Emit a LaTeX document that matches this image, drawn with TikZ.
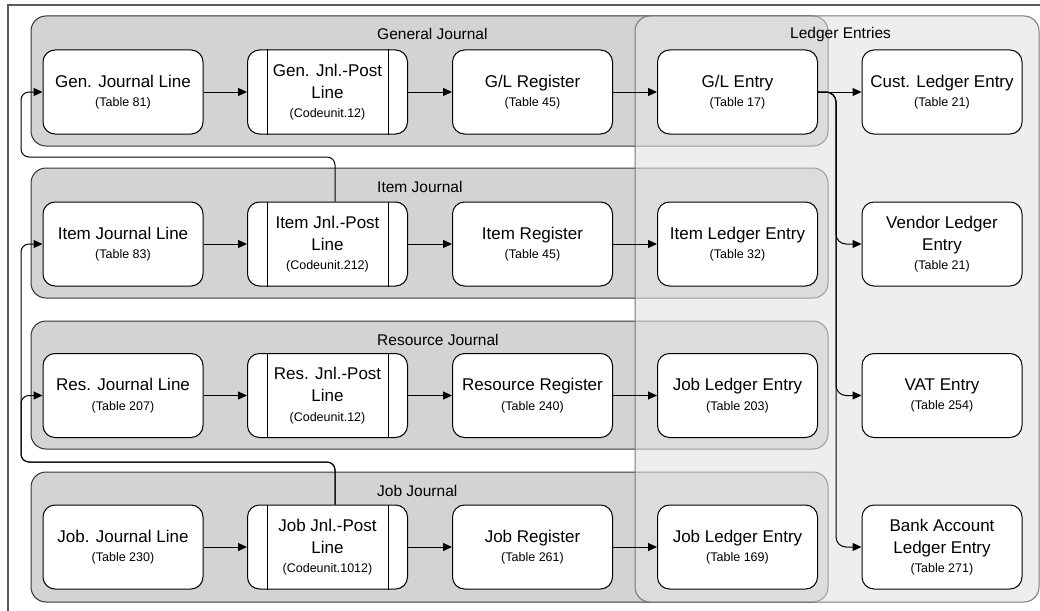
\documentclass[tikz,border=0pt]{standalone}
\usepackage{fontspec}
\setmainfont{Liberation Sans}
\usetikzlibrary{arrows.meta}
\definecolor{grpfill}{RGB}{211,211,211}
\definecolor{ledfill}{RGB}{226,227,230}
\definecolor{framec}{RGB}{90,90,90}
\definecolor{ledborder}{RGB}{120,120,120}
\tikzset{
  box/.style={draw=black, line width=1pt, fill=white, rounded corners=12pt,
    minimum width=160pt, minimum height=84pt, inner sep=0pt, align=center,
    font=\fontsize{17}{19.5}\selectfont},
  grp/.style={draw=black!80, line width=1pt, fill=grpfill, rounded corners=15pt},
  arr/.style={line width=1pt, -{Triangle[length=9pt,width=8pt]}},
  conn/.style={line width=1pt, rounded corners=8pt},
  lbl/.style={font=\fontsize{15.5}{18}\selectfont, anchor=base west, inner sep=0pt},
  postbar/.style={line width=1pt},
}
\newcommand{\smtext}[1]{{\fontsize{12.5}{14}\selectfont #1}}
\begin{document}
\begin{tikzpicture}[x=1pt,y=-1pt]
\useasboundingbox (0,0) rectangle (1040,610);
% outer frame
\draw[framec, line width=1.2pt] (8,612) -- (8,5) -- (1042,5);
% groups
\draw[grp] (31,16) rectangle (828,146);
\draw[grp] (31,168) rectangle (828,298);
\draw[grp] (31,321) rectangle (828,449);
\draw[grp] (31,472) rectangle (828,602);
\node[lbl] (lgen) at (377,40) {General Journal};
\node[lbl] (litem) at (377,192) {Item Journal};
\node[lbl] (lres) at (377,345) {Resource Journal};
\node[lbl] (ljob) at (377,496) {Job Journal};
% ledger overlay
\draw[draw=ledborder, line width=1pt, fill=ledfill, fill opacity=0.6, rounded corners=15pt] (635,16) rectangle (1039,602);
\node[lbl] (lled) at (790,38) {Ledger Entries};
% nodes row 1
\node[box] (genLine) at (123,92) {Gen. Journal Line\\\smtext{(Table 81)}};
\node[box] (genPost) at (327.5,92) {Gen. Jnl.-Post\\[2.5pt]Line\\\smtext{(Codeunit.12)}};
\node[box] (genReg) at (532.5,92) {G/L Register\\\smtext{(Table 45)}};
\node[box] (glEntry) at (737.5,92) {G/L Entry\\\smtext{(Table 17)}};
\node[box] (cust) at (942,92) {Cust. Ledger Entry\\\smtext{(Table 21)}};
% row 2
\node[box] (itemLine) at (123,244) {Item Journal Line\\\smtext{(Table 83)}};
\node[box] (itemPost) at (327.5,244) {Item Jnl.-Post\\[2.5pt]Line\\\smtext{(Codeunit.212)}};
\node[box] (itemReg) at (532.5,244) {Item Register\\\smtext{(Table 45)}};
\node[box] (itemLE) at (737.5,244) {Item Ledger Entry\\\smtext{(Table 32)}};
\node[box] (vendor) at (942,244) {Vendor Ledger\\[2.5pt]Entry\\\smtext{(Table 21)}};
% row 3
\node[box] (resLine) at (123,395.5) {Res. Journal Line\\\smtext{(Table 207)}};
\node[box] (resPost) at (327.5,395.5) {Res. Jnl.-Post\\[2.5pt]Line\\\smtext{(Codeunit.12)}};
\node[box] (resReg) at (532.5,395.5) {Resource Register\\\smtext{(Table 240)}};
\node[box] (jobLEa) at (737.5,395.5) {Job Ledger Entry\\\smtext{(Table 203)}};
\node[box] (vat) at (942,395.5) {VAT Entry\\\smtext{(Table 254)}};
% row 4
\node[box] (jobLine) at (123,547) {Job. Journal Line\\\smtext{(Table 230)}};
\node[box] (jobPost) at (327.5,547) {Job Jnl.-Post\\[2.5pt]Line\\\smtext{(Codeunit.1012)}};
\node[box] (jobReg) at (532.5,547) {Job Register\\\smtext{(Table 261)}};
\node[box] (jobLEb) at (737.5,547) {Job Ledger Entry\\\smtext{(Table 169)}};
\node[box] (bank) at (942,547) {Bank Account\\[2.5pt]Ledger Entry\\\smtext{(Table 271)}};
% bars on post nodes
\foreach \p in {genPost,itemPost,resPost,jobPost}{
  \draw[postbar] ([xshift=20pt]\p.north west) -- ([xshift=20pt]\p.south west);
  \draw[postbar] ([xshift=-20pt]\p.north east) -- ([xshift=-20pt]\p.south east);
}
% horizontal arrows
\foreach \a/\b in {genLine/genPost,genPost/genReg,genReg/glEntry,glEntry/cust,
  itemLine/itemPost,itemPost/itemReg,itemReg/itemLE,
  resLine/resPost,resPost/resReg,resReg/jobLEa,
  jobLine/jobPost,jobPost/jobReg,jobReg/jobLEb}{
  \draw[arr] (\a.east) -- (\b.west);
}
% branch from G/L Entry
\coordinate (bx) at (836,92);
\draw[arr, rounded corners=10pt] (glEntry.east) -- (bx) |- (vendor.west);
\draw[arr, rounded corners=10pt] (glEntry.east) -- (bx) |- (vat.west);
\draw[arr, rounded corners=10pt] (glEntry.east) -- (bx) |- (bank.west);
% feedback loops
\coordinate (lpa) at (21,157);
\coordinate (lpb) at (21,462);
\draw[arr, conn] ([xshift=7.5pt]itemPost.north) |- (lpa) |- (genLine.west);
\draw[arr, conn] ([xshift=7.5pt]jobPost.north) |- (lpb) |- (resLine.west);
\draw[arr, conn] ([xshift=7.5pt]jobPost.north) |- (lpb) |- (itemLine.west);
\end{tikzpicture}
\end{document}
